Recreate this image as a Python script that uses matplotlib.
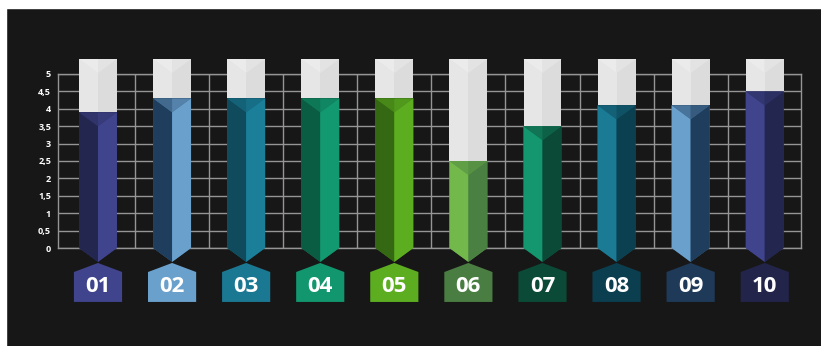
import matplotlib.pyplot as plt
from matplotlib.patches import Polygon
from matplotlib.colors import to_rgb
import numpy as np

labels = ['01', '02', '03', '04', '05', '06', '07', '08', '09', '10']
values = [3.9, 4.3, 4.3, 4.3, 4.3, 2.5, 3.5, 4.1, 4.1, 4.5]
left_colors = ['#23264f', '#1f3d5c', '#0f4b5d', '#0a5c42', '#356812',
               '#73b84a', '#14966e', '#1b7b95', '#6aa0cc', '#3f448c']
right_colors = ['#3f448c', '#6aa0cc', '#1b7f99', '#12996f', '#5cae20',
                '#4a8042', '#0a4a36', '#0b4050', '#1f3d5c', '#23264f']
box_colors = ['#3f448c', '#6aa0cc', '#1b7893', '#12966e', '#5cae20',
              '#4a7d42', '#0a4a36', '#0b3f4f', '#1f3a58', '#22244a']
ytick_vals = [0, 0.5, 1, 1.5, 2, 2.5, 3, 3.5, 4, 4.5, 5]
ytick_labels = ['0', '0,5', '1', '1,5', '2', '2,5', '3', '3,5', '4', '4,5', '5']

BG = '#181717'


def mix(a, b, t):
    a, b = np.array(to_rgb(a)), np.array(to_rgb(b))
    return tuple(a * (1 - t) + b * t)


fig = plt.figure(figsize=(8.21, 3.46), dpi=100)
fig.patch.set_facecolor(BG)
# white strips at top and left edge of the original screenshot
fig.patches.append(plt.Rectangle((0, 1 - 8 / 346), 1, 8 / 346, transform=fig.transFigure,
                                 color='white', zorder=0))
fig.patches.append(plt.Rectangle((0, 0), 6 / 821, 1, transform=fig.transFigure,
                                 color='white', zorder=0))

ax = fig.add_axes([58 / 821, 98 / 346, 743 / 821, 174 / 346])
ax.set_facecolor(BG)
ax.set_xlim(-0.54, 9.49)
ax.set_ylim(0, 5)

grid_c = '#959595'
for y in ytick_vals:
    ax.axhline(y, color=grid_c, lw=1, zorder=1)
for x in np.arange(0.5, 9, 1):
    ax.axvline(x, color=grid_c, lw=1, zorder=1)
for s in ax.spines.values():
    s.set_color(grid_c)
    s.set_linewidth(1)
    s.set_zorder(1)

ax.set_xticks([])
ax.set_yticks(ytick_vals)
ax.set_yticklabels(ytick_labels, color='white', fontsize=6.5, fontweight='bold',
                   family='Open Sans')
ax.tick_params(axis='y', length=0, pad=5)

hw = 0.256      # half bar width
top = 5.43      # tube top
ch = 0.4        # chevron depth
yb = -0.4       # bottom point
bw = 0.325      # half label box width


def poly(pts, color, z=3):
    ax.add_patch(Polygon(pts, closed=True, facecolor=color, edgecolor='none',
                         antialiased=True, clip_on=False, zorder=z))


for i, v in enumerate(values):
    c = i
    lc, rc = left_colors[i], right_colors[i]
    # base shapes underneath, so seams never show the background
    poly([(c - hw, top), (c - hw, v), (c + hw, v), (c + hw, top)], '#e2e2e2', 2.8)
    poly([(c - hw, v), (c - hw, 0), (c, yb), (c + hw, 0), (c + hw, v)],
         mix(lc, rc, 0.5), 2.9)
    # white tube
    poly([(c - hw, top), (c - hw, v), (c, v), (c, top - ch)], '#e6e6e6')
    poly([(c + hw, top), (c + hw, v), (c, v), (c, top - ch)], '#dcdcdc')
    poly([(c - hw, top), (c, top - ch), (c, top)], '#ebebeb')
    poly([(c + hw, top), (c, top - ch), (c, top)], '#e3e3e3')
    # coloured part
    poly([(c - hw, v), (c - hw, 0), (c, yb), (c, v - ch)], lc, 3.1)
    poly([(c + hw, v), (c + hw, 0), (c, yb), (c, v - ch)], rc, 3.1)
    poly([(c - hw, v), (c, v - ch), (c, v)], mix(lc, rc, 0.45), 3.2)
    poly([(c + hw, v), (c, v - ch), (c, v)], mix(lc, rc, 0.7), 3.2)
    # label box
    poly([(c - bw, -1.55), (c - bw, -0.69), (c, -0.43), (c + bw, -0.69),
          (c + bw, -1.55)], box_colors[i])
    ax.text(c, -1.12, labels[i], color='white', fontsize=16, fontweight='bold',
            family='Open Sans', ha='center', va='center', zorder=4, clip_on=False)

fig.savefig('out.png', dpi=100, facecolor=BG)
